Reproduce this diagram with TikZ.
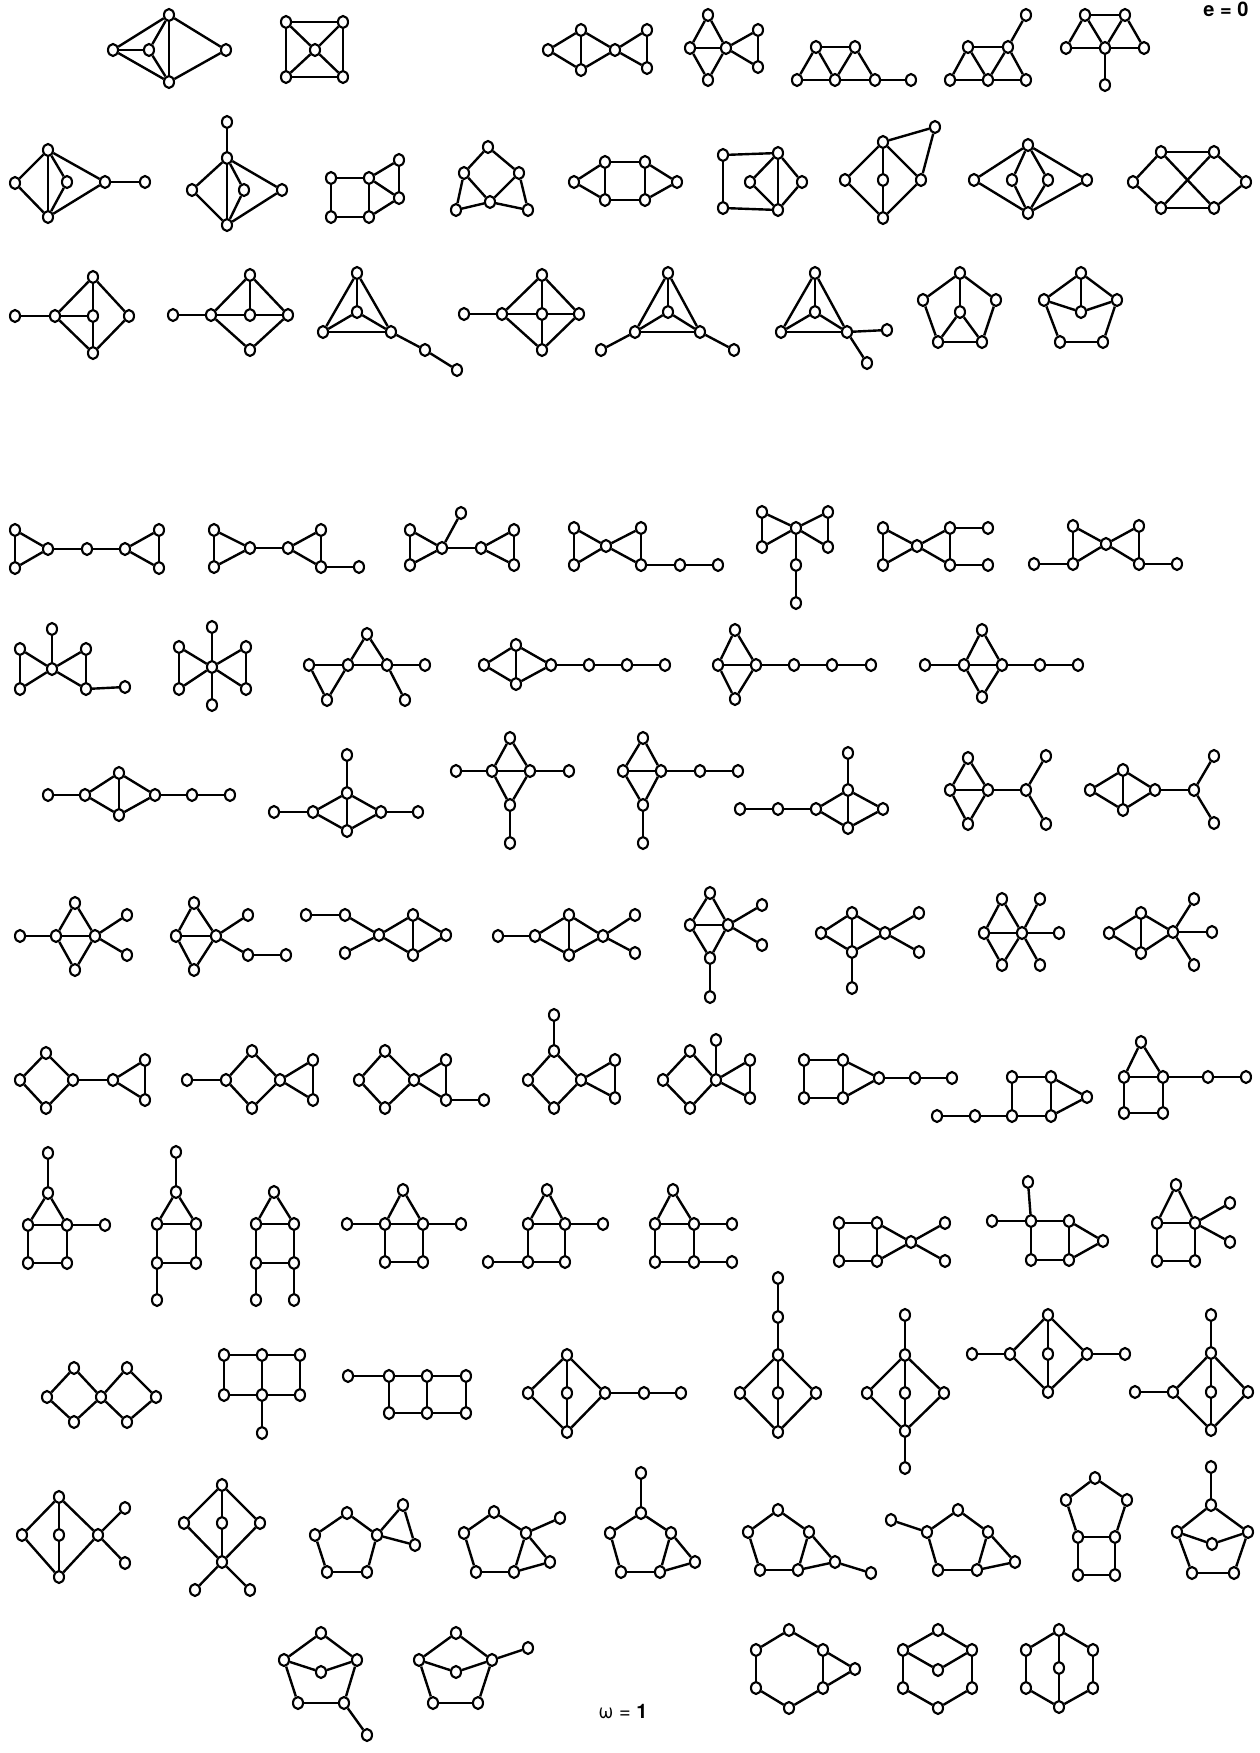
\documentclass[tikz,border=0pt]{standalone}
\usepackage{fontspec}
\newfontfamily\hfont{TeX Gyre Heros}
\usetikzlibrary{shapes.geometric}
\tikzset{
  vx/.style={ellipse,draw,fill=white,line width=2.1pt,minimum width=10pt,minimum height=12pt,inner sep=0pt},
  ed/.style={line width=2.4pt},
  lab/.style={font=\hfont\bfseries\fontsize{20}{20}\selectfont,inner sep=1pt}
}
\newcommand\gph[3]{%
  \foreach \n/\px/\py in {#2}{\node[vx] (#1\n) at (\px,\py) {};}%
  \foreach \a/\b in {#3}{\draw[ed] (#1\a) -- (#1\b);}%
}
\begin{document}
\begin{tikzpicture}[x=1pt,y=-1pt]
\useasboundingbox (0,0) rectangle (1259,1753);
\fill[white] (0,0) rectangle (1259,1753);
% labels
\node[lab,anchor=north] (e0) at (1226,0.5) {e = 0};
\node[anchor=center,font=\hfont\fontsize{20}{20}\selectfont] (om) at (623,1712) {ω = \textbf{1}};
% row 1
\gph{g1}{L/113/50, I/149/50, T/169/15, B/169/82, R/226/50}{L/T, L/B, L/I, T/B, T/R, B/R, I/T, I/B}
\gph{g2}{TL/286/22, TR/343/22, C/315/50, BL/286/77, BR/343/77}{TL/TR, BL/BR, TL/BL, TR/BR, TL/C, TR/C, BL/C, BR/C}
\gph{g3}{L/548/50, T/581/30, B/581/70, C/615/50, RT/647/30, RB/647/68}{L/T, L/B, T/B, T/C, B/C, C/RT, C/RB, RT/RB}
\gph{g4}{T/708/15, L/690/48, C/726/48, B/708/80, RT/758/30, RB/758/67}{T/L, T/C, L/C, L/B, C/B, C/RT, C/RB, RT/RB}
\gph{g5}{T1/816/47, T2/855/47, B1/797/80, B2/835/80, B3/875/80, X/911/80}{T1/T2, T1/B1, T1/B2, T2/B2, T2/B3, B1/B2, B2/B3, B3/X}
\gph{g6}{T1/968/47, T2/1008/47, P/1026/15, B1/950/80, B2/988/80, B3/1026/80}{T1/T2, T1/B1, T1/B2, T2/B2, T2/B3, B1/B2, B2/B3, T2/P}
\gph{g7}{T1/1085/15, T2/1125/15, L/1066/48, C/1105/48, R/1144/48, P/1105/85}{T1/T2, T1/L, T1/C, T2/C, T2/R, L/C, C/R, C/P}
% row 2
\gph{g8}{L/15/183, T/48/150, I/67/182, B/48/217, R/105/182, P/145/182}{L/T, L/B, T/B, T/I, I/B, T/R, B/R, R/P}
\gph{g9}{P/227/122, T/227/158, L/192/190, I/244/190, R/282/190, B/227/225}{P/T, T/L, T/B, T/I, I/B, T/R, L/B, R/B}
\gph{g10}{TL/331/178, TM/369/178, RT/399/160, RB/399/198, BL/331/217, BM/369/217}{TL/TM, BL/BM, TL/BL, TM/BM, TM/RT, TM/RB, RT/RB, BM/RB}
\gph{g11}{T/488/147, L/464/173, R/519/173, C/490/202, BL/456/210, BR/528/210}{T/L, T/R, L/C, R/C, L/BL, R/BR, BL/C, C/BR}
\gph{g12}{L/574/182, TL/605/162, TR/645/162, BL/605/200, BR/645/200, R/677/182}{L/TL, L/BL, TL/TR, BL/BR, TR/R, BR/R, TL/BL, TR/BR}
\gph{g13}{TL/723/155, BL/723/208, T/778/153, L/750/182, R/802/182, B/778/210}{TL/T, BL/B, TL/BL, T/L, T/R, T/B, L/B, R/B}
\gph{g14}{T/883/142, P/935/127, L/845/180, C/883/180, R/921/180, B/883/218}{T/P, P/R, T/L, T/C, C/B, T/R, L/B, R/B}
\gph{g15}{T/1028/145, L/974/180, I1/1012/180, I2/1048/180, R/1087/180, B/1028/213}{T/L, T/I1, T/I2, T/R, B/L, B/I1, B/I2, B/R}
\gph{g16}{TL/1161/152, TR/1214/152, L/1133/182, R/1246/182, BL/1161/208, BR/1214/208}{TL/TR, BL/BR, L/TL, L/BL, R/TR, R/BR, TL/BR, TR/BL}
% row 3
\gph{g17}{P/15/316, L/55/316, C/93/316, T/93/277, B/93/353, R/129/316}{P/L, L/C, L/T, L/B, T/C, C/B, T/R, B/R}
\gph{g18}{P/173/315, L/211/315, C/250/315, R/288/315, T/250/275, B/250/350}{P/L, L/C, C/R, L/T, L/B, T/C, T/R, B/R}
\gph{g19}{T/357/273, C/357/312, L/323/332, R/391/332, P1/425/350, P2/457/370}{T/L, T/R, T/C, C/L, C/R, L/R, R/P1, P1/P2}
\gph{g20}{P/464/314, L/502/314, C/542/314, R/579/314, T/542/275, B/542/350}{P/L, L/C, C/R, L/T, L/B, T/C, C/B, T/R, B/R}
\gph{g21}{T/668/273, C/668/312, L/635/332, R/700/332, PL/601/350, PR/734/350}{T/L, T/R, T/C, C/L, C/R, L/R, L/PL, R/PR}
\gph{g22}{T/815/273, C/815/312, L/781/332, R/847/332, PR/887/330, PB/867/363}{T/L, T/R, T/C, C/L, C/R, L/R, R/PR, R/PB}
\gph{g23}{T/960/273, L/923/300, R/996/300, BL/938/342, BR/982/342, C/960/312}{T/L, T/R, L/BL, R/BR, BL/BR, T/C, C/BL, C/BR}
\gph{g24}{T/1081/273, L/1044/300, R/1117/300, C/1081/312, BL/1060/342, BR/1103/342}{T/L, T/R, L/BL, R/BR, BL/BR, T/C, L/C, C/R}
% row 4
\gph{g25}{LT/15/530, LB/15/568, L1/48/549, M/87/549, R1/125/549, RT/159/530, RB/159/568}{LT/LB, LT/L1, LB/L1, L1/M, M/R1, R1/RT, R1/RB, RT/RB}
\gph{g26}{LT/214/530, LB/214/567, L/250/548, M/288/548, RT/321/530, RB/321/567, P/359/567}{LT/LB, LT/L, LB/L, L/M, M/RT, M/RB, RT/RB, RB/P}
\gph{g27}{LT/410/530, LB/410/565, L/442/548, P/461/513, M/481/548, RT/514/530, RB/514/565}{LT/LB, LT/L, LB/L, L/P, L/M, M/RT, M/RB, RT/RB}
\gph{g28}{LT/574/528, LB/574/565, C/606/546, RT/641/528, RB/641/565, P1/680/565, P2/718/565}{LT/LB, LT/C, LB/C, C/RT, C/RB, RT/RB, RB/P1, P1/P2}
\gph{g29}{LT/762/512, LB/762/547, C/796/528, RT/828/512, RB/828/547, P1/796/565, P2/796/603}{LT/LB, LT/C, LB/C, C/RT, C/RB, RT/RB, C/P1, P1/P2}
\gph{g30}{LT/883/528, LB/883/565, C/917/546, RT/950/528, RB/950/565, PT/988/528, PB/988/565}{LT/LB, LT/C, LB/C, C/RT, C/RB, RT/RB, RT/PT, RB/PB}
\gph{g31}{LP/1034/564, LT/1073/526, LB/1073/564, C/1106/544, RT/1139/526, RB/1139/564, RP/1177/564}{LP/LB, LT/LB, LT/C, LB/C, C/RT, C/RB, RT/RB, RB/RP}
% row 5
\gph{g32}{T/52/629, LT/20/649, LB/20/689, C/52/669, RT/86/649, RB/86/689, P/125/687}{T/C, LT/LB, LT/C, LB/C, C/RT, C/RB, RT/RB, RB/P}
\gph{g33}{T/212/627, LT/179/647, LB/179/689, C/212/667, RT/246/647, RB/246/689, B/212/705}{T/C, C/B, LT/LB, LT/C, LB/C, C/RT, C/RB, RT/RB}
\gph{g34}{T/367/634, L/309/665, C1/348/665, C2/387/665, R/425/665, BL/327/700, BR/405/700}{T/C1, T/C2, C1/C2, L/C1, L/BL, C1/BL, C2/R, C2/BR}
\gph{g35}{L/484/665, T/516/645, B/516/684, C/551/665, P1/589/665, P2/627/665, P3/665/665}{L/T, L/B, T/B, T/C, B/C, C/P1, P1/P2, P2/P3}
\gph{g36}{T/735/630, L/718/665, C/756/665, B/735/699, P1/794/665, P2/832/665, P3/871/665}{T/L, T/C, L/C, L/B, C/B, C/P1, P1/P2, P2/P3}
\gph{g37}{P0/925/665, L/964/665, T/982/630, B/982/697, C/1002/665, P1/1040/665, P2/1078/665}{P0/L, L/T, L/B, L/C, T/C, B/C, C/P1, P1/P2}
% row 6
\gph{g38}{P0/48/795, L/85/795, T/119/773, B/119/815, R/155/795, P1/192/795, P2/230/795}{P0/L, L/T, L/B, T/B, T/R, B/R, R/P1, P1/P2}
\gph{g39}{P/347/755, T/347/793, L/313/812, R/381/812, B/347/831, PL/274/812, PR/418/812}{P/T, T/L, T/R, T/B, L/B, R/B, PL/L, R/PR}
\gph{g40}{T/510/738, L/492/771, R/530/771, B/510/805, PL/456/771, PR/569/771, PB/510/843}{T/L, T/R, L/R, L/B, R/B, PL/L, R/PR, B/PB}
\gph{g41}{T/643/738, L/623/771, R/661/771, B/643/805, P1/700/771, P2/738/771, PB/643/843}{T/L, T/R, L/R, L/B, R/B, R/P1, P1/P2, B/PB}
\gph{g42}{P/848/753, T/848/790, L/816/809, R/883/809, B/848/828, P0/740/809, P1/778/809}{P/T, T/L, T/R, T/B, L/B, R/B, L/P1, P1/P0}
\gph{g43}{T/968/758, L/950/790, C/988/790, B/968/824, X/1026/790, XT/1046/756, XB/1046/824}{T/L, T/C, L/C, L/B, C/B, C/X, X/XT, X/XB}
\gph{g44}{L/1090/790, T/1123/770, B/1123/810, C/1155/790, X/1194/790, XT/1214/756, XB/1214/823}{L/T, L/B, T/B, T/C, B/C, C/X, X/XT, X/XB}
% row 7
\gph{g45}{P/20/936, L/56/936, T/75/903, C/95/936, B/75/970, RT/127/915, RB/127/955}{P/L, L/T, L/C, L/B, T/C, C/B, C/RT, C/RB}
\gph{g46}{T/194/903, L/176/936, C/216/936, B/194/970, RT/248/915, P1/248/955, P2/286/955}{T/L, T/C, L/C, L/B, C/B, C/RT, C/P1, P1/P2}
\gph{g47}{P0/306/915, P1/345/915, PB/345/953, C/379/935, T/413/915, B/413/955, R/446/935}{P0/P1, P1/C, PB/C, C/T, C/B, T/B, T/R, B/R}
\gph{g48}{P/498/936, L/535/936, T/569/915, B/569/955, C/603/936, RT/635/915, RB/635/953}{P/L, L/T, L/B, T/B, T/C, B/C, C/RT, C/RB}
\gph{g49}{T/710/893, L/690/925, C/728/925, B/710/958, PB/710/997, RT/762/905, RB/762/945}{T/L, T/C, L/C, L/B, C/B, B/PB, C/RT, C/RB}
\gph{g50}{T/852/913, L/821/933, R/885/933, B/852/952, PB/852/988, RT/919/913, RB/919/952}{T/L, T/R, T/B, L/B, R/B, B/PB, R/RT, R/RB}
\gph{g51}{T/1002/899, L/984/933, C/1022/933, B/1002/965, RT/1040/899, R/1059/933, RB/1040/965}{T/L, T/C, L/C, L/B, C/B, C/RT, C/R, C/RB}
\gph{g52}{L/1109/933, T/1141/913, B/1141/953, C/1173/932, RT/1194/899, R/1212/932, RB/1194/965}{L/T, L/B, T/B, T/C, B/C, C/RT, C/R, C/RB}
% row 8
\gph{g53}{T/46/1053, L/20/1080, B/46/1108, C/73/1080, X/113/1080, RT/145/1060, RB/145/1100}{T/L, L/B, T/C, B/C, C/X, X/RT, X/RB, RT/RB}
\gph{g54}{P/187/1080, L/226/1080, T/252/1051, B/252/1108, C/280/1080, RT/313/1060, RB/313/1100}{P/L, L/T, L/B, T/C, B/C, C/RT, C/RB, RT/RB}
\gph{g55}{T/385/1051, L/359/1080, B/385/1108, C/414/1080, RT/446/1060, RB/446/1100, P/484/1100}{T/L, L/B, T/C, B/C, C/RT, C/RB, RT/RB, RB/P}
\gph{g56}{P/554/1015, T/554/1051, L/528/1080, B/554/1108, C/581/1080, RT/615/1060, RB/615/1098}{P/T, T/L, T/C, L/B, B/C, C/RT, C/RB, RT/RB}
\gph{g57}{T/690/1051, L/663/1080, B/690/1108, C/716/1080, P/716/1040, RT/750/1060, RB/750/1098}{T/L, L/B, T/C, B/C, C/P, C/RT, C/RB, RT/RB}
\gph{g58}{TL/804/1060, BL/804/1098, TR/843/1060, BR/843/1098, C/879/1078, P1/915/1078, P2/952/1078}{TL/TR, BL/BR, TL/BL, TR/BR, TR/C, BR/C, C/P1, P1/P2}
\gph{g59}{TL/1012/1077, TR/1051/1077, R/1087/1097, BL/1012/1116, BR/1051/1116, P1/975/1116, P0/937/1116}{TL/TR, BL/BR, TL/BL, TR/BR, TR/R, BR/R, BL/P1, P1/P0}
\gph{g60}{T/1141/1042, L/1124/1077, C/1163/1077, P1/1208/1077, P2/1246/1077, BL/1124/1113, BR/1163/1113}{T/L, T/C, L/C, L/BL, C/BR, BL/BR, C/P1, P1/P2}
% row 9
\gph{g61}{P/48/1153, T/48/1193, L/28/1225, R/67/1225, PR/105/1225, BL/28/1263, BR/67/1263}{P/T, T/L, T/R, L/R, R/PR, L/BL, R/BR, BL/BR}
\gph{g62}{P/176/1152, T/176/1192, L/157/1224, R/196/1224, BL/157/1263, BR/196/1263, PB/157/1300}{P/T, T/L, T/R, L/R, L/BL, R/BR, BL/BR, BL/PB}
\gph{g63}{T/274/1192, L/256/1224, R/294/1224, BL/256/1263, BR/294/1263, PL/256/1300, PR/294/1300}{T/L, T/R, L/R, L/BL, R/BR, BL/BR, BL/PL, BR/PR}
\gph{g64}{T/403/1190, PL/347/1224, L/385/1224, R/423/1224, PR/461/1224, BL/385/1262, BR/423/1262}{T/L, T/R, L/R, PL/L, R/PR, L/BL, R/BR, BL/BR}
\gph{g65}{T/547/1190, L/528/1224, R/565/1224, PR/603/1224, PB/488/1262, BL/528/1262, BR/565/1262}{T/L, T/R, L/R, R/PR, L/BL, R/BR, BL/BR, BL/PB}
\gph{g66}{T/673/1190, L/655/1224, R/694/1224, PR/732/1224, BL/655/1262, BR/694/1262, PBR/732/1262}{T/L, T/R, L/R, R/PR, L/BL, R/BR, BL/BR, BR/PBR}
\gph{g67}{TL/839/1223, TR/877/1223, BL/839/1261, BR/877/1261, C/911/1242, PT/945/1223, PB/945/1261}{TL/TR, BL/BR, TL/BL, TR/BR, TR/C, BR/C, C/PT, C/PB}
\gph{g68}{P/1028/1182, PL/992/1221, L/1031/1221, R/1069/1221, C/1103/1241, BL/1031/1260, BR/1069/1260}{P/L, PL/L, L/R, L/BL, R/BR, BL/BR, R/C, BR/C}
\gph{g69}{T/1176/1185, L/1157/1223, C/1195/1223, RT/1230/1203, RB/1230/1242, BL/1157/1261, BR/1195/1261}{T/L, T/C, L/C, L/BL, C/BR, BL/BR, C/RT, C/RB}
% row 10
\gph{g70}{LT/74/1368, LL/47/1397, LB/74/1422, C/101/1397, RT/127/1368, RB/127/1422, RR/156/1397}{LT/LL, LL/LB, LB/C, C/LT, C/RT, RT/RR, RR/RB, RB/C}
\gph{g71}{TL/224/1355, TM/262/1355, TR/300/1355, ML/224/1395, MM/262/1395, MR/300/1395, B/262/1433}{TL/TM, TM/TR, ML/MM, MM/MR, TL/ML, TM/MM, TR/MR, MM/B}
\gph{g72}{P/348/1376, TL/389/1376, TM/427/1376, TR/466/1376, BL/389/1413, BM/427/1413, BR/466/1413}{P/TL, TL/TM, TM/TR, BL/BM, BM/BR, TL/BL, TM/BM, TR/BR}
\gph{g73}{T/567/1355, L/528/1393, C/567/1393, R/605/1393, B/567/1432, P1/644/1393, P2/681/1393}{T/L, T/C, C/B, T/R, L/B, R/B, R/P1, P1/P2}
\gph{g74}{P2/778/1278, P1/778/1317, T/778/1355, L/740/1393, C/778/1393, R/816/1393, B/778/1432}{P2/P1, P1/T, T/L, T/C, C/B, T/R, L/B, R/B}
\gph{g75}{P/905/1315, T/905/1355, L/867/1393, C/905/1393, R/944/1393, B/905/1431, PB/905/1468}{P/T, T/L, T/C, C/B, T/R, L/B, R/B, B/PB}
\gph{g76}{T/1048/1315, L/1010/1354, C/1048/1354, R/1087/1354, B/1048/1392, PL/972/1354, PR/1125/1354}{T/L, T/C, C/B, T/R, L/B, R/B, PL/L, R/PR}
\gph{g77}{P/1211/1315, T/1211/1353, L/1173/1392, C/1211/1392, R/1248/1392, B/1211/1430, PL/1135/1392}{P/T, T/L, T/C, C/B, T/R, L/B, R/B, PL/L}
% row 11
\gph{g78}{T/59/1497, L/22/1535, C/59/1535, B/59/1577, R/98/1535, RT/125/1508, RB/125/1563}{T/L, T/C, C/B, L/B, T/R, R/B, R/RT, R/RB}
\gph{g79}{T/222/1485, L/184/1523, C/222/1523, R/260/1523, B/222/1562, BL/195/1590, BR/250/1590}{T/L, T/C, C/B, T/R, L/B, R/B, B/BL, B/BR}
\gph{g80}{T/347/1513, L/315/1535, R/377/1535, BL/327/1572, BR/367/1572, RT/403/1505, RB/415/1545}{T/L, T/R, L/BL, R/BR, BL/BR, R/RT, R/RB, RT/RB}
\gph{g81}{T/494/1512, L/464/1533, R/526/1533, BL/476/1572, BR/514/1572, P/560/1518, X/550/1562}{T/L, T/R, L/BL, R/BR, BL/BR, R/P, R/X, X/BR}
\gph{g82}{P/641/1473, T/641/1513, L/610/1533, R/671/1533, BL/621/1572, BR/660/1572, X/695/1562}{P/T, T/L, T/R, L/BL, R/BR, BL/BR, R/X, X/BR}
\gph{g83}{T/778/1510, L/748/1532, R/809/1532, BL/760/1570, BR/798/1570, X/835/1562, PX/871/1573}{T/L, T/R, L/BL, R/BR, BL/BR, R/X, X/BR, X/PX}
\gph{g84}{P/891/1520, T/958/1510, L/927/1532, R/988/1532, BL/938/1570, BR/977/1570, X/1015/1562}{P/L, T/L, T/R, L/BL, R/BR, BL/BR, R/X, X/BR}
\gph{g85}{T/1095/1478, L/1066/1500, R/1127/1500, ML/1078/1537, MR/1115/1537, BL/1078/1575, BR/1115/1575}{T/L, T/R, L/ML, R/MR, ML/MR, ML/BL, MR/BR, BL/BR}
\gph{g86}{P/1211/1467, T/1211/1505, L/1177/1532, R/1248/1532, C/1212/1544, BL/1192/1573, BR/1234/1573}{P/T, T/L, T/R, L/C, C/R, L/BL, R/BR, BL/BR}
% row 12
\gph{g87}{T/321/1633, L/284/1660, R/357/1660, C/321/1672, BL/298/1703, BR/344/1703, P/367/1735}{T/L, T/R, L/C, C/R, L/BL, R/BR, BL/BR, BR/P}
\gph{g88}{T/456/1633, L/419/1660, R/492/1660, C/456/1672, BL/433/1703, BR/478/1703, P/528/1648}{T/L, T/R, L/C, C/R, L/BL, R/BR, BL/BR, R/P}
\gph{g89}{T/789/1630, TL/756/1650, TR/823/1650, BL/756/1688, BR/823/1688, B/789/1708, X/855/1669}{T/TL, T/TR, TL/BL, BL/B, B/BR, TR/BR, TR/X, BR/X}
\gph{g90}{T/938/1630, TL/903/1650, TR/972/1650, C/938/1670, BL/903/1688, BR/972/1688, B/938/1708}{T/TL, T/TR, TL/BL, BL/B, B/BR, TR/BR, TL/C, C/TR}
\gph{g91}{T/1059/1630, TL/1026/1650, TR/1093/1650, C/1059/1668, BL/1026/1688, BR/1093/1688, B/1059/1707}{T/TL, T/TR, TL/BL, BL/B, B/BR, TR/BR, T/C, C/B}
\end{tikzpicture}
\end{document}
